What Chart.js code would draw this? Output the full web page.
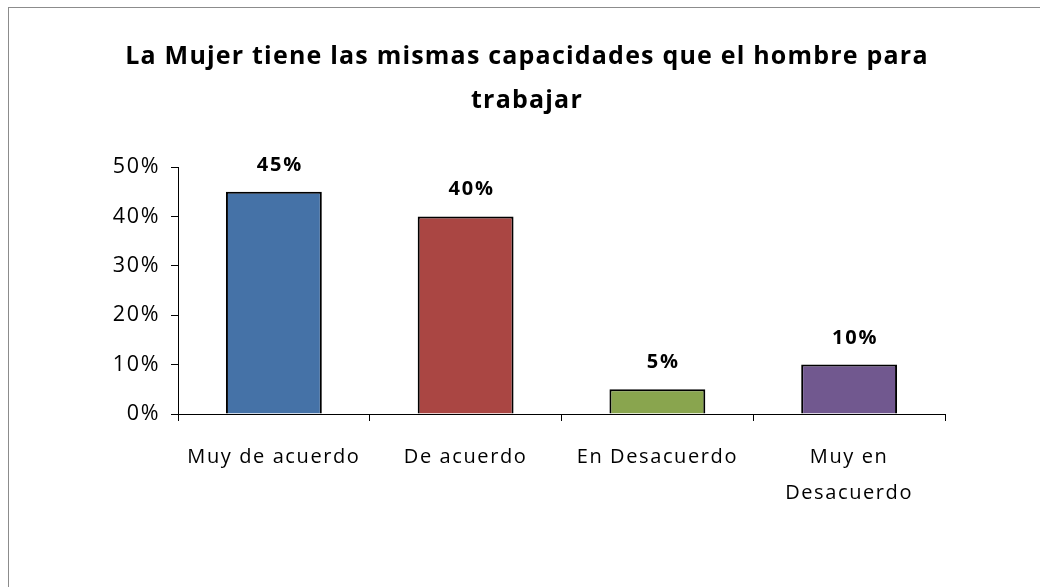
<!DOCTYPE html>
<html>
<head>
<meta charset="utf-8">
<script src="https://cdn.jsdelivr.net/npm/chart.js@4"></script>
<style>
  body { margin: 0; background: #fff; overflow: hidden; }
  canvas { display: block; }
</style>
</head>
<body>
<canvas id="grafico" width="1040" height="587"></canvas>
<script>
// Datos del gráfico
const categorias = ['Muy de acuerdo', 'De acuerdo', 'En Desacuerdo', ['Muy en', 'Desacuerdo']];
const porcentajes = [45, 40, 5, 10];
const colores = ['#4572A7', '#AA4643', '#89A54E', '#71588F'];
const ticksY = [0, 10, 20, 30, 40, 50];
const titulo = ['La Mujer tiene las mismas capacidades que el hombre para', 'trabajar'];

const fuente = '"Open Sans", Lato, sans-serif';

// fondo blanco, marco gris y título
const marco = {
    id: 'marco',
    beforeDraw(chart) {
        const ctx = chart.ctx;
        ctx.save();
        ctx.fillStyle = '#fff';
        ctx.fillRect(0, 0, chart.width, chart.height);
        ctx.strokeStyle = '#8c8c8c';
        ctx.lineWidth = 1;
        ctx.strokeRect(8.5, 7.5, 1200, 800);

        ctx.fillStyle = '#000';
        ctx.font = 'bold 25px ' + fuente;
        ctx.letterSpacing = '1.2px';
        ctx.textAlign = 'center';
        ctx.textBaseline = 'alphabetic';
        ctx.fillText(titulo[0], 527, 64);
        ctx.fillText(titulo[1], 527, 108);
        ctx.restore();
        // el texto de los ejes lleva algo de espaciado, como en el original
        ctx.letterSpacing = '1.6px';
    }
};

// etiquetas de valor encima de las barras
const etiquetas = {
    id: 'etiquetas',
    afterDatasetsDraw(chart) {
        const ctx = chart.ctx;
        const meta = chart.getDatasetMeta(0);
        ctx.save();
        ctx.font = 'bold 20px ' + fuente;
        ctx.letterSpacing = '1.8px';
        ctx.fillStyle = '#000';
        ctx.textAlign = 'center';
        ctx.textBaseline = 'alphabetic';
        meta.data.forEach((bar, i) => {
            ctx.fillText(porcentajes[i] + '%', bar.x + 6, bar.y - 21);
        });
        ctx.restore();
    }
};

var ctx = document.getElementById('grafico').getContext('2d');
var grafico = new Chart(ctx, {
    type: 'bar',
    data: {
        labels: categorias,
        datasets: [{
            data: porcentajes,
            backgroundColor: colores,
            borderColor: '#000',
            borderWidth: 2,
            barPercentage: 0.5,
            categoryPercentage: 1
        }]
    },
    options: {
        responsive: false,
        animation: false,
        layout: { padding: { left: 0, right: 95, top: 167, bottom: 0 } },
        plugins: {
            legend: { display: false },
            tooltip: { enabled: false },
            title: { display: false }
        },
        scales: {
            x: {
                offset: true,
                grid: { offset: true, drawOnChartArea: false, color: '#000', tickLength: 7 },
                border: { color: '#000', width: 1 },
                ticks: {
                    color: '#000',
                    padding: 18,
                    maxRotation: 0,
                    font: { family: fuente, size: 20, lineHeight: 1.8 }
                },
                afterFit(scale) { scale.height = 173; }
            },
            y: {
                min: 0,
                max: 50,
                grid: { drawOnChartArea: false, color: '#000', tickLength: 7 },
                border: { color: '#000', width: 1 },
                afterBuildTicks(scale) { scale.ticks = ticksY.map(v => ({ value: v })); },
                ticks: {
                    color: '#000',
                    padding: 11,
                    font: { family: fuente, size: 21.5 },
                    callback: v => v + '%'
                },
                afterFit(scale) { scale.width = 178; }
            }
        }
    },
    plugins: [marco, etiquetas]
});
</script>
</body>
</html>
